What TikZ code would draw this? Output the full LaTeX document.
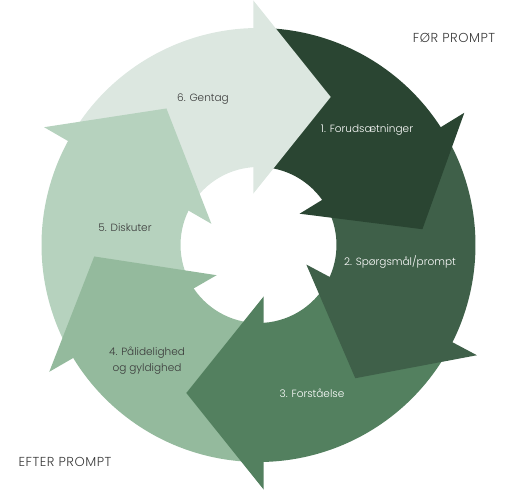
\documentclass[tikz,border=0pt]{standalone}
\usepackage{fontspec}
\setmainfont{Poppins}[UprightFont={* Light}]
\usepackage{tikz}
\definecolor{segone}{HTML}{2A4532}
\definecolor{segtwo}{HTML}{3F6049}
\definecolor{segthree}{HTML}{53805F}
\definecolor{segfour}{HTML}{94BA9D}
\definecolor{segfive}{HTML}{B6D2BE}
\definecolor{segsix}{HTML}{DCE7E0}
\definecolor{labelgray}{HTML}{3A3A3A}

\begin{document}
\begin{tikzpicture}[x=1pt,y=1pt,
  lbl/.style={font=\fontsize{10.5}{16}\selectfont, align=center},
  onDark/.style={lbl, text=white},
  onLight/.style={lbl, text=labelgray},
  corner/.style={font=\fontsize{13}{15}\selectfont\addfontfeature{LetterSpace=4}, text=labelgray}]
  \useasboundingbox (0,0) rectangle (528,490);
  \coordinate (c) at (258.5,245);
  \begin{scope}[shift={(c)}]
    % ring pieces
    \foreach \col/\a/\b in {segone/31.5/90, segtwo/-28/31.5, segthree/-90/-28,
                            segfour/-150/-90, segfive/150/210, segsix/90/150}
      \fill[\col] (\a:217) arc[start angle=\a, end angle=\b, radius=217]
        -- (\b:78) arc[start angle=\b, end angle=\a, radius=78] -- cycle;
    % arrow heads
    \foreach \col/\a in {segone/31.5, segtwo/-28, segthree/-90,
                         segfour/-150, segfive/150, segsix/90}
      \fill[\col, rotate=\a-90] (-5.2,51.4) -- (-5.2,244.6) -- (72.2,148) -- cycle;
  \end{scope}

  \node[onDark] (forud) at (367,360) {1. Forudsætninger};
  \node[onDark] (spm) at (400,228) {2. Spørgsmål/prompt};
  \node[onDark] (forst) at (312,97) {3. Forståelse};
  \node[onLight] (paal) at (147,129) {4. Pålidelighed\\og gyldighed};
  \node[onLight] (disk) at (125,262) {5. Diskuter};
  \node[onLight] (gentag) at (203,391) {6. Gentag};

  \node[corner] (foer) at (454,452) {FØR PROMPT};
  \node[corner] (efter) at (65,28) {EFTER PROMPT};
\end{tikzpicture}
\end{document}
